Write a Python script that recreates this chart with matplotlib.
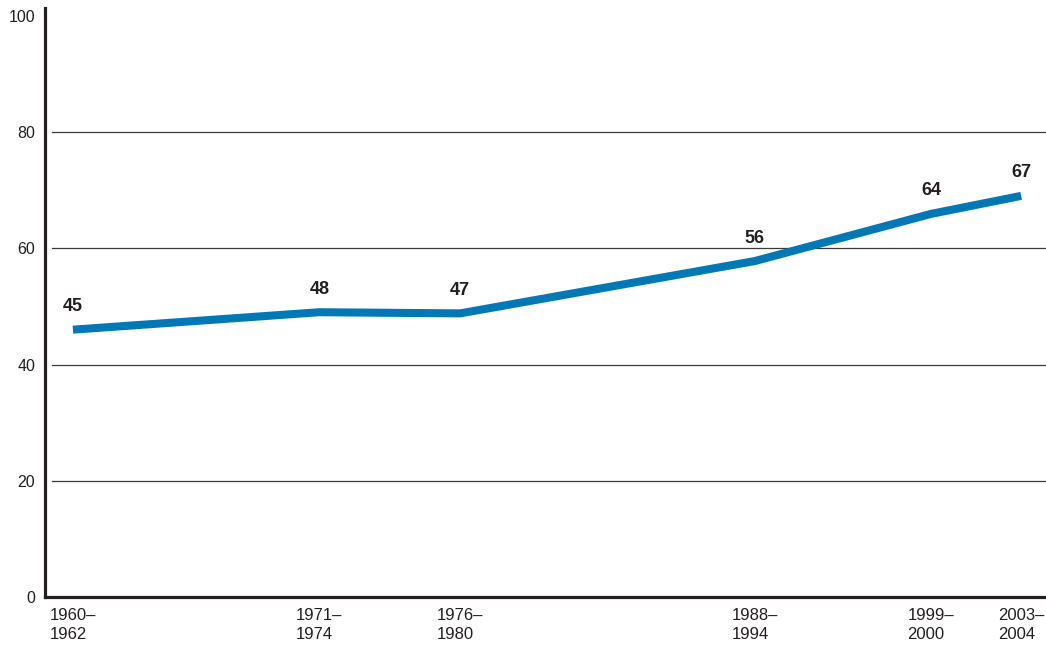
import matplotlib
matplotlib.use("Agg")
import matplotlib.pyplot as plt

# Data
periods = ["1960–\n1962", "1971–\n1974", "1976–\n1980", "1988–\n1994", "1999–\n2000", "2003–\n2004"]
period_pos = [0.0, 11.2, 17.6, 31.0, 39.0, 43.1]
line_values = [46.0, 49.0, 48.8, 57.8, 65.9, 69.0]
value_labels = ["45", "48", "47", "56", "64", "67"]
y_ticks = [0, 20, 40, 60, 80, 100]
grid_values = [20, 40, 60, 80]

plt.rcParams['font.family'] = ['Liberation Sans', 'DejaVu Sans']

fig = plt.figure(figsize=(10.46, 6.46), dpi=100)
ax = fig.add_axes([0.043, 0.0755, 0.957, 0.9121])

ax.set_xlim(-1.27, 44.23)
ax.set_ylim(0, 101.3)

for v in grid_values:
    ax.axhline(v, xmin=0.007, xmax=1.0, color='#3a3a3a', lw=0.9, zorder=1)

ax.plot(period_pos, line_values, color='#0078b5', lw=5.8,
        solid_capstyle='butt', solid_joinstyle='miter', zorder=3)

for x, y, lab in zip(period_pos, line_values, value_labels):
    ax.annotate(lab, (x, y), xytext=(0, 16.5), textcoords='offset points',
                ha='center', va='center', fontsize=13, fontweight='bold',
                color='#231f20')

for side in ['top', 'right']:
    ax.spines[side].set_visible(False)
for side in ['left', 'bottom']:
    ax.spines[side].set_color('#231f20')
    ax.spines[side].set_linewidth(2.3)

ax.set_yticks(y_ticks)
ax.set_yticklabels([str(t) for t in y_ticks])
ax.set_xticks(period_pos)
ax.set_xticklabels(periods, multialignment='left', linespacing=1.3)
ax.tick_params(axis='y', length=0, pad=7, labelsize=11.5, labelcolor='#231f20')
ax.tick_params(axis='x', length=0, pad=8, labelsize=12, labelcolor='#231f20')

fig.savefig('out.png', dpi=100)
